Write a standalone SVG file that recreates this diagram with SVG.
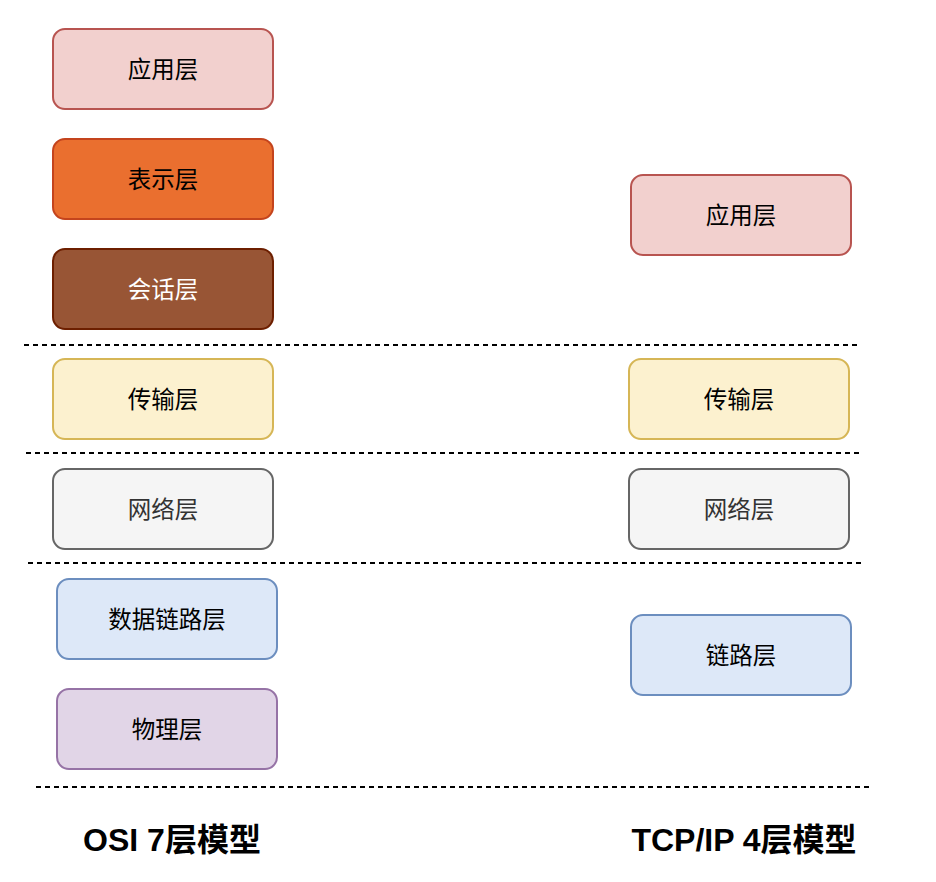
<svg xmlns="http://www.w3.org/2000/svg" width="936" height="882" viewBox="0 0 936 882">
<style>
.box{stroke-width:2}
.t{font-family:"Liberation Sans","Noto Sans CJK SC",sans-serif;font-size:23.5px;text-anchor:middle;dominant-baseline:central;fill:#000}
.h{font-family:"Liberation Sans","Noto Sans CJK SC",sans-serif;font-size:32px;font-weight:bold;text-anchor:middle;fill:#000}
.d{stroke:#000;stroke-width:2;stroke-dasharray:5 4;fill:none}
</style>
<rect width="936" height="882" fill="#fff"/>
<g id="osi-app"><rect class="box" x="53" y="29" width="220" height="80" rx="12" fill="#f2d0ce" stroke="#b85450"/><text class="t" x="163" y="70">应用层</text></g>
<g id="osi-pres"><rect class="box" x="53" y="139" width="220" height="80" rx="12" fill="#ea6f2f" stroke="#c4441d"/><text class="t" x="163" y="180">表示层</text></g>
<g id="osi-sess"><rect class="box" x="53" y="249" width="220" height="80" rx="12" fill="#985535" stroke="#6d1f00"/><text class="t" x="163" y="290" style="fill:#fff">会话层</text></g>
<g id="osi-trans"><rect class="box" x="53" y="359" width="220" height="80" rx="12" fill="#fcf1cf" stroke="#d6b656"/><text class="t" x="163" y="400">传输层</text></g>
<g id="osi-net"><rect class="box" x="53" y="469" width="220" height="80" rx="12" fill="#f5f5f5" stroke="#666666"/><text class="t" x="163" y="510" style="fill:#333">网络层</text></g>
<g id="osi-link"><rect class="box" x="57" y="579" width="220" height="80" rx="12" fill="#dde8f8" stroke="#6c8ebf"/><text class="t" x="167" y="620">数据链路层</text></g>
<g id="osi-phys"><rect class="box" x="57" y="689" width="220" height="80" rx="12" fill="#e1d5e7" stroke="#9673a6"/><text class="t" x="167" y="730">物理层</text></g>
<g id="tcp-app"><rect class="box" x="631" y="175" width="220" height="80" rx="12" fill="#f2d0ce" stroke="#b85450"/><text class="t" x="741" y="216">应用层</text></g>
<g id="tcp-trans"><rect class="box" x="629" y="359" width="220" height="80" rx="12" fill="#fcf1cf" stroke="#d6b656"/><text class="t" x="739" y="400">传输层</text></g>
<g id="tcp-net"><rect class="box" x="629" y="469" width="220" height="80" rx="12" fill="#f5f5f5" stroke="#666666"/><text class="t" x="739" y="510" style="fill:#333">网络层</text></g>
<g id="tcp-link"><rect class="box" x="631" y="615" width="220" height="80" rx="12" fill="#dde8f8" stroke="#6c8ebf"/><text class="t" x="741" y="656">链路层</text></g>
<g id="connectors">
<line class="d" x1="24" y1="345" x2="857" y2="345"/>
<line class="d" x1="26" y1="453" x2="859" y2="453"/>
<line class="d" x1="28" y1="563" x2="861" y2="563"/>
<line class="d" x1="36" y1="787" x2="869" y2="787"/>
</g>
<g id="title-osi"><text class="h" x="172" y="851">OSI 7层模型</text></g>
<g id="title-tcp"><text class="h" x="744" y="851">TCP/IP 4层模型</text></g>
</svg>
